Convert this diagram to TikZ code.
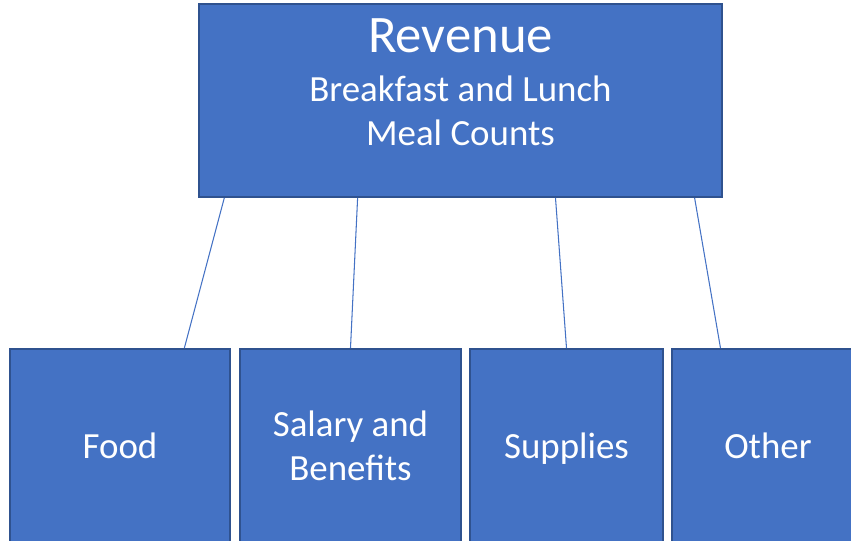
\documentclass[tikz,border=0pt]{standalone}
\usepackage{fontspec}
\setmainfont{Carlito}
\usepackage{tikz}
\usetikzlibrary{calc,positioning}
\definecolor{boxblue}{HTML}{4472C4}
\definecolor{boxedge}{HTML}{2F528F}
\tikzset{box/.style={rectangle, draw=boxedge, fill=boxblue, line width=1.1pt, text=white, align=center, inner sep=0pt}}
\tikzset{topbox/.style={box, minimum width=10.46cm, minimum height=3.86cm}}
\tikzset{costbox/.style={box, minimum height=3.88cm, font=\fontsize{21}{25}\selectfont}}
\tikzset{toptext/.style={text=white, align=center, inner sep=0pt, font=\fontsize{21}{25}\selectfont}}
\tikzset{link/.style={draw=boxblue, line width=0.6pt}}

\begin{document}
\begin{tikzpicture}
\useasboundingbox (0,0) rectangle (17.02,-10.82);
\clip (0,0) rectangle (17.02,-10.82);
%revenue box on top
\node (rev) at (9.21,-2.01)[topbox]{};
\node (revtext) [toptext, below=0.3cm of rev.north, anchor=north]{{\fontsize{30}{30}\selectfont Revenue}\\[3pt]
  Breakfast and Lunch\\
  Meal Counts};
%cost boxes below
\node (food) at (2.4,-8.92)[costbox, minimum width=4.4cm]{Food};
\node (salary) at (7.01,-8.92)[costbox, minimum width=4.42cm]{Salary and\\Benefits};
\node (supplies) at (11.33,-8.92)[costbox, minimum width=3.86cm, text depth=0pt]{Supplies};
\node (other) at (15.36,-8.92)[costbox, minimum width=3.84cm]{Other};

\draw[link] ($(rev.south west)!0.05!(rev.south east)$)--($(food.north west)!0.79!(food.north east)$);
\draw[link] ($(rev.south west)!0.304!(rev.south east)$)--($(salary.north west)!0.5!(salary.north east)$);
\draw[link] ($(rev.south west)!0.681!(rev.south east)$)--($(supplies.north west)!0.5!(supplies.north east)$);
\draw[link] ($(rev.south west)!0.946!(rev.south east)$)--($(other.north west)!0.255!(other.north east)$);
\end{tikzpicture}
\end{document}
